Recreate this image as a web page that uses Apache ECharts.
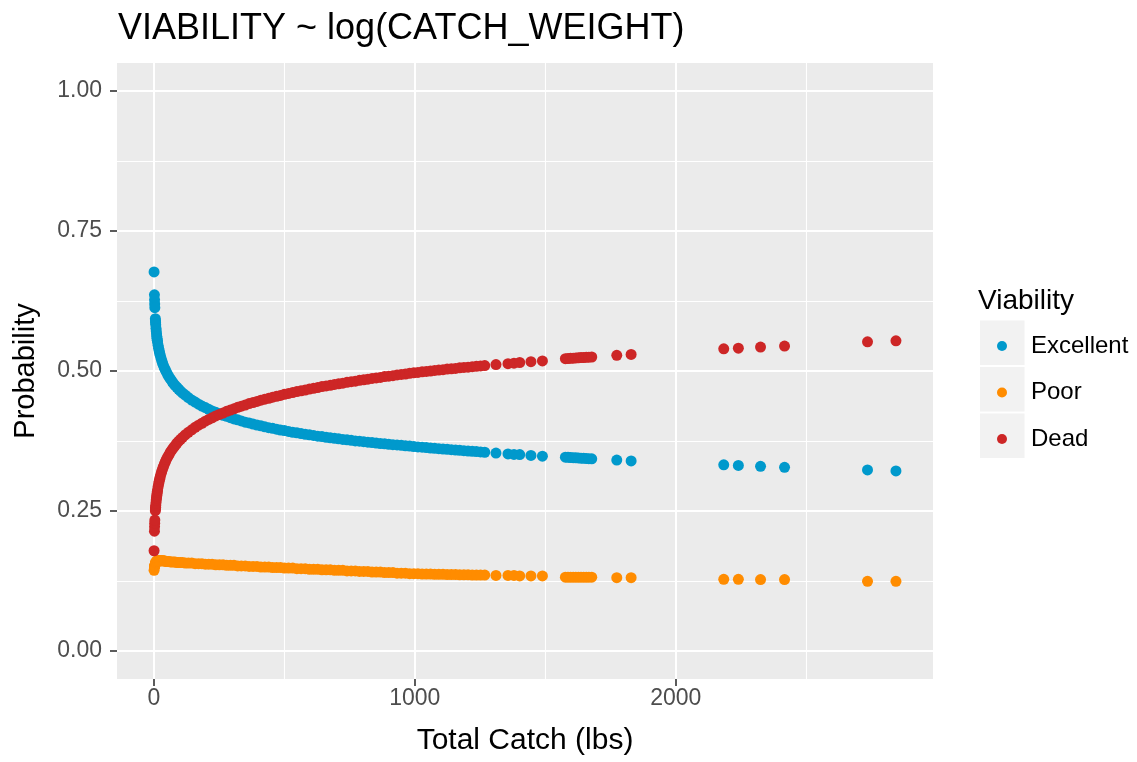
<!DOCTYPE html>
<html>
<head>
<meta charset="utf-8">
<title>VIABILITY ~ log(CATCH_WEIGHT)</title>
<script src="https://cdn.jsdelivr.net/npm/echarts@6/dist/echarts.min.js"></script>
<style>
	html, body { margin: 0; padding: 0; background: #fff; }
	#chart { width: 1137px; height: 762px; }
</style>
</head>
<body>
<div id="chart"></div>
<script>
// total catch (lbs) of each record
const catchLbs = [
	0.6, 2, 2.5, 3, 3.5, 5.5, 6, 6.5, 7, 8, 9, 10, 11, 12, 13, 14, 16, 18, 20, 22, 24, 27, 30, 33, 36, 40,
	44, 48, 53, 58, 63, 69, 75, 81, 88, 95, 102, 110, 120, 132, 145, 158, 171, 184, 197, 210, 223, 237,
	251, 265, 279, 293, 307, 321, 335, 350, 365, 380, 395, 410, 425, 440, 455, 470, 485, 500, 516, 532,
	548, 564, 580, 596, 612, 628, 644, 660, 676, 692, 708, 724, 740, 756, 772, 788, 804, 820, 836, 852,
	868, 884, 900, 916, 932, 948, 964, 980, 996, 1012, 1028, 1044, 1060, 1076, 1092, 1108, 1124, 1140,
	1156, 1172, 1188, 1204, 1220, 1236, 1252, 1268, 1311, 1357, 1380, 1402, 1445, 1489, 1577, 1587, 1597,
	1607, 1617, 1627, 1637, 1647, 1657, 1667, 1678, 1774, 1829, 2184, 2240, 2325, 2417, 2735, 2844
]
const pExcellent = [
	0.677, 0.6361, 0.6272, 0.6197, 0.6131, 0.5934, 0.5893, 0.5861, 0.5824, 0.5763, 0.5714, 0.5664, 0.5618,
	0.5581, 0.5547, 0.5516, 0.5459, 0.5408, 0.5363, 0.5321, 0.5283, 0.5231, 0.5184, 0.5142, 0.5102, 0.5055,
	0.5018, 0.4978, 0.4933, 0.4891, 0.4859, 0.4817, 0.4778, 0.4743, 0.4710, 0.4674, 0.4640, 0.4605, 0.4570,
	0.4525, 0.4480, 0.4445, 0.4408, 0.4373, 0.4346, 0.4315, 0.4287, 0.4263, 0.4236, 0.4210, 0.4190, 0.4167,
	0.4145, 0.4128, 0.4108, 0.4087, 0.4072, 0.4053, 0.4034, 0.4021, 0.4004, 0.3987, 0.3976, 0.3961, 0.3946,
	0.3936, 0.3921, 0.3906, 0.3897, 0.3883, 0.3870, 0.3861, 0.3849, 0.3836, 0.3829, 0.3817, 0.3806, 0.3799,
	0.3788, 0.3778, 0.3772, 0.3762, 0.3752, 0.3746, 0.3737, 0.3728, 0.3723, 0.3714, 0.3705, 0.3701, 0.3692,
	0.3684, 0.3680, 0.3672, 0.3664, 0.3660, 0.3652, 0.3645, 0.3640, 0.3632, 0.3625, 0.3620, 0.3613, 0.3606,
	0.3602, 0.3595, 0.3588, 0.3584, 0.3578, 0.3571, 0.3567, 0.3561, 0.3555, 0.3549, 0.3535, 0.3519, 0.3511,
	0.3508, 0.3493, 0.3479, 0.3461, 0.3458, 0.3455, 0.3452, 0.3450, 0.3447, 0.3444, 0.3441, 0.3438, 0.3435,
	0.3432, 0.3409, 0.3395, 0.3325, 0.3313, 0.3298, 0.3280, 0.3234, 0.3216
]
const pPoor = [
	0.144, 0.150, 0.151, 0.152, 0.153, 0.156, 0.157, 0.157, 0.158, 0.159, 0.159, 0.160, 0.161, 0.161, 0.161,
	0.161, 0.161, 0.161, 0.161, 0.161, 0.161, 0.161, 0.161, 0.161, 0.161, 0.161, 0.160, 0.160, 0.160, 0.160,
	0.159, 0.159, 0.159, 0.159, 0.158, 0.158, 0.158, 0.158, 0.157, 0.157, 0.157, 0.156, 0.156, 0.156, 0.155,
	0.155, 0.155, 0.154, 0.154, 0.154, 0.153, 0.153, 0.153, 0.152, 0.152, 0.152, 0.151, 0.151, 0.151, 0.150,
	0.150, 0.150, 0.149, 0.149, 0.149, 0.148, 0.148, 0.148, 0.147, 0.147, 0.147, 0.146, 0.146, 0.146, 0.145,
	0.145, 0.145, 0.144, 0.144, 0.144, 0.143, 0.143, 0.143, 0.142, 0.142, 0.142, 0.141, 0.141, 0.141, 0.140,
	0.140, 0.140, 0.139, 0.139, 0.139, 0.138, 0.138, 0.138, 0.1375, 0.1375, 0.1375, 0.137, 0.137, 0.137,
	0.1365, 0.1365, 0.1365, 0.136, 0.136, 0.136, 0.1355, 0.1355, 0.1355, 0.1355, 0.135, 0.135, 0.135, 0.134,
	0.134, 0.134, 0.1318, 0.1318, 0.1318, 0.1318, 0.1318, 0.1318, 0.1318, 0.1318, 0.1318, 0.1318, 0.1318,
	0.131, 0.131, 0.128, 0.128, 0.1275, 0.1275, 0.1245, 0.1245
]
const pDead = [
	0.179, 0.2139, 0.2218, 0.2283, 0.2339, 0.2505, 0.2537, 0.2569, 0.2596, 0.2647, 0.2695, 0.2736, 0.2772,
	0.2808, 0.2842, 0.2874, 0.2931, 0.2982, 0.3027, 0.3069, 0.3107, 0.3159, 0.3206, 0.3249, 0.3287, 0.3335,
	0.3382, 0.3422, 0.3467, 0.3508, 0.3551, 0.3593, 0.3631, 0.3668, 0.3710, 0.3746, 0.3780, 0.3815, 0.3861,
	0.3905, 0.3949, 0.3995, 0.4032, 0.4067, 0.4104, 0.4135, 0.4163, 0.4197, 0.4225, 0.4250, 0.4280, 0.4303,
	0.4325, 0.4352, 0.4372, 0.4393, 0.4418, 0.4437, 0.4456, 0.4479, 0.4496, 0.4513, 0.4533, 0.4549, 0.4564,
	0.4584, 0.4599, 0.4614, 0.4633, 0.4647, 0.4660, 0.4678, 0.4691, 0.4704, 0.4721, 0.4733, 0.4744, 0.4761,
	0.4772, 0.4782, 0.4798, 0.4809, 0.4818, 0.4833, 0.4843, 0.4853, 0.4867, 0.4877, 0.4885, 0.4900, 0.4908,
	0.4917, 0.4930, 0.4938, 0.4946, 0.4960, 0.4968, 0.4975, 0.4986, 0.4993, 0.5000, 0.5010, 0.5017, 0.5024,
	0.5034, 0.5040, 0.5046, 0.5056, 0.5063, 0.5069, 0.5078, 0.5084, 0.5090, 0.5096, 0.5115, 0.5131, 0.5139,
	0.5152, 0.5166, 0.5180, 0.5220, 0.5223, 0.5226, 0.5229, 0.5233, 0.5236, 0.5239, 0.5241, 0.5244, 0.5247,
	0.5250, 0.5280, 0.5295, 0.5396, 0.5407, 0.5428, 0.5445, 0.5521, 0.5539
]
const viabilityLevels = ['Excellent', 'Poor', 'Dead']
const xMajorTicks = [0, 1000, 2000]
const xMinorTicks = [500, 1500, 2500]
const yMajorTicks = [0, 0.25, 0.5, 0.75, 1]
const yMinorTicks = [0.125, 0.375, 0.625, 0.875]

const FONT = 'Liberation Sans, Arial, sans-serif'
const colors = { Excellent: '#0099CC', Poor: '#FF8C00', Dead: '#CD2626' }
const probs = { Excellent: pExcellent, Poor: pPoor, Dead: pDead }

const xRange = { min: -141.5, max: 2986 }
const yRange = { min: -0.05, max: 1.05 }

const chart = echarts.init(document.getElementById('chart'))

function axisBase(range) {
	return {
		type: 'value',
		min: range.min,
		max: range.max,
		axisLine: { show: false, onZero: false },
		splitArea: { show: false },
		minorTick: { show: false },
		minorSplitLine: { show: false }
	}
}

const option = {
	animation: false,
	backgroundColor: '#fff',
	title: [
		{
			text: 'VIABILITY ~ log(CATCH_WEIGHT)',
			left: 118,
			top: 11,
			padding: 0,
			textStyle: { fontFamily: FONT, fontSize: 36, fontWeight: 'normal', color: '#000' }
		},
		{
			text: 'Viability',
			left: 978,
			top: 287,
			padding: 0,
			textStyle: { fontFamily: FONT, fontSize: 28, fontWeight: 'normal', color: '#000' }
		}
	],
	grid: {
		left: 117,
		right: 204,
		top: 63,
		bottom: 83,
		show: true,
		backgroundColor: '#EBEBEB',
		borderWidth: 0,
		containLabel: false,
		outerBoundsMode: 'none'
	},
	legend: {
		orient: 'vertical',
		left: 997,
		top: 334,
		padding: 0,
		itemWidth: 10,
		itemHeight: 10,
		itemGap: 22.5,
		icon: 'circle',
		selectedMode: false,
		data: viabilityLevels,
		textStyle: { fontFamily: FONT, fontSize: 24, lineHeight: 24, color: '#000', padding: [0, 0, 0, 19] }
	},
	graphic: viabilityLevels.map((name, i) => ({
		type: 'rect',
		z: 1,
		shape: { x: 980, y: 320.5 + i * 46.5, width: 44.5, height: 44.5 },
		style: { fill: '#F2F2F2' }
	})),
	xAxis: [
		Object.assign(axisBase(xRange), {
			position: 'bottom',
			name: 'Total Catch (lbs)',
			nameLocation: 'middle',
			nameGap: 47,
			nameTextStyle: { fontFamily: FONT, fontSize: 30, color: '#000' },
			axisTick: { show: true, length: 7, customValues: xMajorTicks, lineStyle: { color: '#333', width: 1.6 } },
			axisLabel: {
				customValues: xMajorTicks,
				margin: 8,
				fontFamily: FONT,
				fontSize: 23,
				color: '#4D4D4D',
				formatter: v => String(v)
			},
			splitLine: { show: true, lineStyle: { color: '#fff', width: 2 } }
		}),
		Object.assign(axisBase(xRange), {
			position: 'bottom',
			axisTick: { show: false, customValues: xMinorTicks },
			axisLabel: { show: false, customValues: xMinorTicks },
			splitLine: { show: true, lineStyle: { color: '#fff', width: 1.1 } }
		})
	],
	yAxis: [
		Object.assign(axisBase(yRange), {
			position: 'left',
			name: 'Probability',
			nameLocation: 'middle',
			nameRotate: 90,
			nameGap: 77,
			nameTextStyle: { fontFamily: FONT, fontSize: 29, color: '#000' },
			axisTick: { show: true, length: 7, customValues: yMajorTicks, lineStyle: { color: '#333', width: 1.6 } },
			axisLabel: {
				customValues: yMajorTicks,
				margin: 15,
				fontFamily: FONT,
				fontSize: 23,
				color: '#4D4D4D',
				formatter: v => v.toFixed(2)
			},
			splitLine: { show: true, lineStyle: { color: '#fff', width: 2 } }
		}),
		Object.assign(axisBase(yRange), {
			position: 'left',
			axisTick: { show: false, customValues: yMinorTicks },
			axisLabel: { show: false, customValues: yMinorTicks },
			splitLine: { show: true, lineStyle: { color: '#fff', width: 1.1 } }
		})
	],
	series: viabilityLevels.map(name => ({
		name: name,
		type: 'scatter',
		xAxisIndex: 0,
		yAxisIndex: 0,
		symbol: 'circle',
		symbolSize: 11,
		itemStyle: { color: colors[name], opacity: 1 },
		emphasis: { disabled: true },
		z: name === 'Dead' ? 4 : 3,
		data: catchLbs.map((lbs, i) => [lbs, probs[name][i]])
	}))
}

chart.setOption(option)
</script>
</body>
</html>
